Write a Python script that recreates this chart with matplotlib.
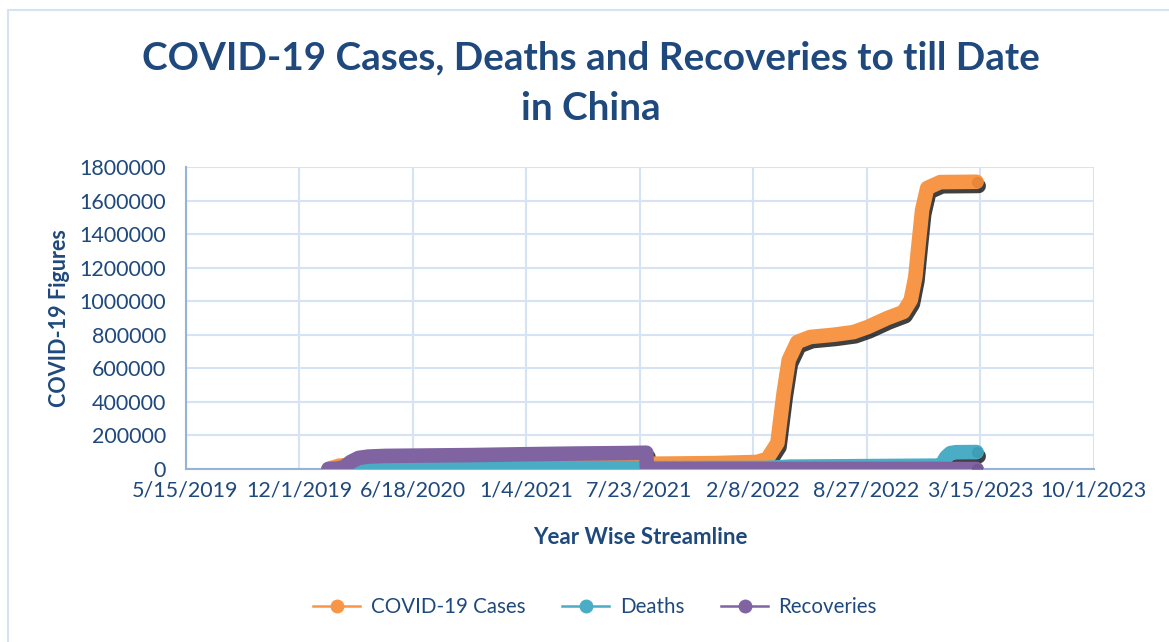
import matplotlib
matplotlib.use("Agg")
import matplotlib.pyplot as plt
import matplotlib.patheffects as pe
from matplotlib.lines import Line2D
from matplotlib.patches import Rectangle
import pandas as pd

plt.rcParams['font.family'] = ['Lato', 'DejaVu Sans']

# values (key points)
cases_dates = ["2020-01-22", "2020-02-10", "2020-03-01", "2020-06-01", "2021-01-01",
               "2021-08-01", "2021-12-01", "2022-02-15", "2022-03-05", "2022-03-23",
               "2022-04-03", "2022-04-12", "2022-04-27", "2022-05-20", "2022-06-30",
               "2022-08-04", "2022-08-29", "2022-10-03", "2022-10-31", "2022-11-13",
               "2022-11-21", "2022-11-27", "2022-12-03", "2022-12-12", "2023-01-04",
               "2023-03-09"]
cases = [500, 20000, 26000, 27000, 29000,
         31000, 35000, 42000, 60000, 155000,
         453000, 650000, 757000, 787000, 800000,
         816000, 846000, 900000, 936000, 1007000,
         1144000, 1347000, 1543000, 1675000, 1710000,
         1712000]

deaths_dates = ["2020-01-22", "2020-02-15", "2020-03-15", "2020-04-17", "2021-08-01",
                "2022-01-01", "2022-03-01", "2022-04-15", "2022-12-31", "2023-01-06",
                "2023-01-14", "2023-01-22", "2023-02-01", "2023-03-09"]
deaths = [17, 1700, 3200, 4600, 4800,
          5700, 6000, 14000, 20000, 22000,
          70000, 95000, 100000, 101000]

recov_dates = ["2020-01-22", "2020-02-05", "2020-02-19", "2020-03-01", "2020-03-15",
               "2020-04-01", "2020-05-01", "2020-07-01", "2020-10-01", "2021-01-01",
               "2021-04-01", "2021-07-01", "2021-08-04", "2021-08-05", "2022-03-01",
               "2022-10-01", "2023-03-09"]
recoveries = [28, 1000, 12000, 42000, 66000,
              74000, 78000, 80000, 83000, 88000,
              92000, 95000, 97000, 0, 0,
              0, 0]

x_ticks = ["2019-05-15", "2019-12-01", "2020-06-18", "2021-01-04", "2021-07-23",
           "2022-02-08", "2022-08-27", "2023-03-15", "2023-10-01"]
x_tick_labels = ["5/15/2019", "12/1/2019", "6/18/2020", "1/4/2021", "7/23/2021",
                 "2/8/2022", "8/27/2022", "3/15/2023", "10/1/2023"]

navy = '#1F497D'
series = [
    ("COVID-19 Cases", cases_dates, cases, '#F79646', '#E0802F'),
    ("Deaths", deaths_dates, deaths, '#4BACC6', '#3A97B0'),
    ("Recoveries", recov_dates, recoveries, '#8064A2', '#6E538F'),
]

fig = plt.figure(figsize=(11.69, 6.42), dpi=100)
ax = fig.add_axes([185.5 / 1169, 1 - 469 / 642, 908 / 1169, 302 / 642])

# chart-area border (only top and left edges visible in the crop)
fig.patches.append(Rectangle((8 / 1169, -0.1), 1.2, 1 - 10 / 642 + 0.1,
                             transform=fig.transFigure, fill=False,
                             edgecolor='#D5E3F5', linewidth=1.5))

# shadows first, so they sit under every series
for name, d, v, c, ec in series:
    ax.plot(pd.to_datetime(d), v, color=c, lw=10.5, solid_capstyle='round',
            solid_joinstyle='round', zorder=2,
            path_effects=[pe.SimpleLineShadow(offset=(1.5, -3), shadow_color='black', alpha=0.75)])

handles = []
for i, (name, d, v, c, ec) in enumerate(series):
    ax.plot(pd.to_datetime(d), v, color=c, lw=10.5, solid_capstyle='round',
            solid_joinstyle='round', zorder=3 + i)
    # last point drawn as a marker with a darker rim, as in the source
    ax.plot(pd.to_datetime(d[-1:]), v[-1:], 'o', markersize=7, markerfacecolor=ec,
            markeredgecolor=ec, alpha=0.6, zorder=3 + i)
    handles.append(Line2D([], [], color=c, lw=1.8, marker='o', markersize=9,
                          markerfacecolor=c, markeredgecolor=c, label=name))

ax.set_xlim(pd.Timestamp("2019-05-15"), pd.Timestamp("2023-10-01"))
ax.set_ylim(0, 1800000)
ax.set_xticks(pd.to_datetime(x_ticks))
ax.set_xticklabels(x_tick_labels)
ax.set_yticks(range(0, 1800001, 200000))
ax.set_yticklabels([str(t) for t in range(0, 1800001, 200000)])
ax.tick_params(length=0, labelsize=15.5, colors=navy, pad=8)
ax.tick_params(axis='y', pad=14)
ax.grid(True, color='#D6E3F5', lw=1.5)
ax.set_axisbelow(True)
for s in ['top', 'right']:
    ax.spines[s].set_visible(False)
for s in ['left', 'bottom']:
    ax.spines[s].set_color('#95B3D7')
    ax.spines[s].set_linewidth(1.5)

fig.text(591 / 1169, 1 - 58 / 642, "COVID-19 Cases, Deaths and Recoveries to till Date",
         ha='center', va='center', fontsize=27.8, fontweight='bold', color=navy)
fig.text(591 / 1169, 1 - 108 / 642, "in China",
         ha='center', va='center', fontsize=27.8, fontweight='bold', color=navy)
fig.text(640 / 1169, 1 - 538 / 642, "Year Wise Streamline", ha='center', va='center',
         fontsize=16, fontweight='bold', color=navy)
fig.text(60 / 1169, 1 - 318 / 642, "COVID-19 Figures", ha='center', va='center',
         rotation=90, fontsize=15.5, fontweight='bold', color=navy)

fig.legend(handles=handles, loc='center', bbox_to_anchor=(595 / 1169, 1 - 607 / 642),
           ncol=3, frameon=False, fontsize=14.8, labelcolor=navy, handlelength=2.3,
           handletextpad=0.5, columnspacing=1.8)

fig.savefig("out.png", dpi=100)
